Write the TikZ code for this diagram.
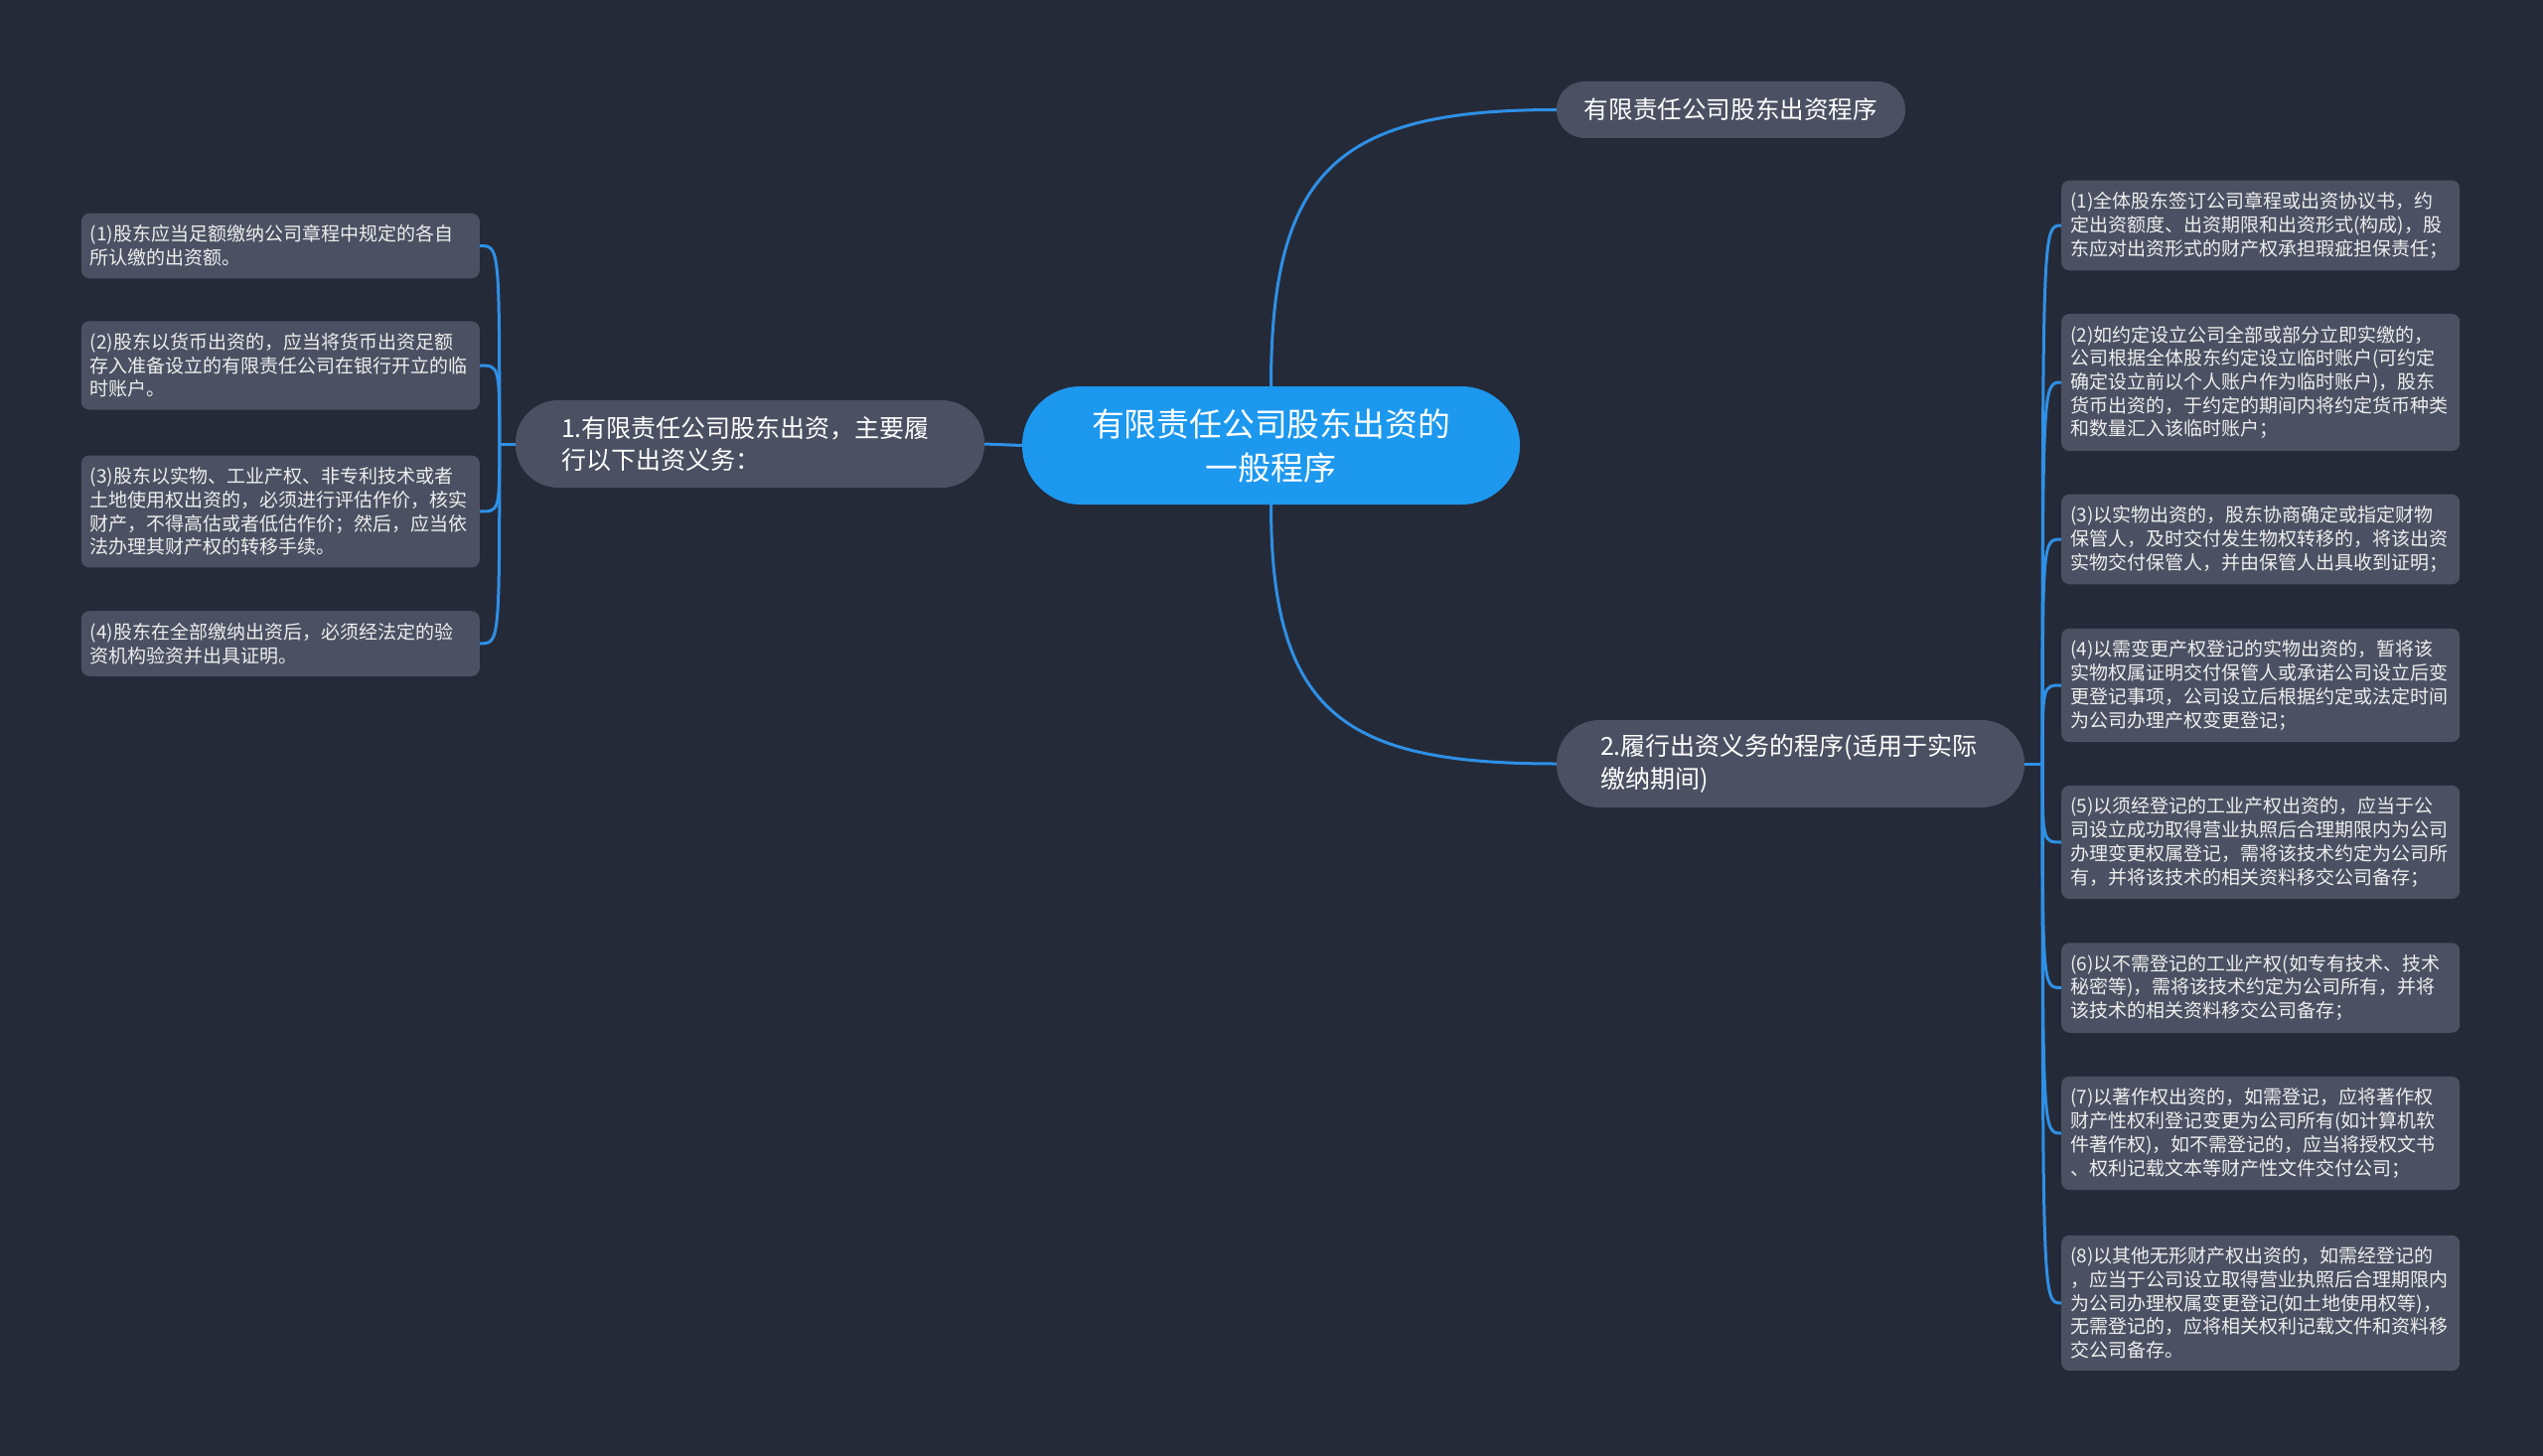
\documentclass[tikz,border=0pt]{standalone}
\usepackage{fontspec}
\newfontfamily\cjk{Noto Sans CJK SC}
\usetikzlibrary{positioning, calc}
\definecolor{bgnavy}{HTML}{252A38}
\definecolor{boxgrey}{HTML}{4B5162}
\definecolor{rootblue}{HTML}{1C98EF}
\definecolor{linkblue}{HTML}{2E90E6}
\definecolor{leaftext}{HTML}{EEEEEE}

\tikzset{
    leaf/.style={fill=boxgrey, text=leaftext, rounded corners=8pt, align=left,
        text width=383pt, inner xsep=9pt, inner ysep=12pt,
        font=\cjk\fontsize{19pt}{23.7pt}\selectfont},
    branch/.style={fill=boxgrey, text=white, rounded corners=43pt, align=left,
        text width=380pt, inner xsep=46pt, inner ysep=10pt, minimum height=88pt,
        font=\cjk\fontsize{25pt}{32.7pt}\selectfont},
    root/.style={fill=rootblue, text=white, rounded corners=59pt, align=center,
        text width=441pt, inner xsep=30pt, minimum height=119pt,
        font=\cjk\fontsize{32.8pt}{44pt}\selectfont},
    link/.style={draw=linkblue, line width=3pt}
}

\begin{document}
\begin{tikzpicture}[x=1pt, y=1pt]
    % background
    \fill[bgnavy] (0,0) rectangle (2560,-1466);
    \useasboundingbox (0,0) rectangle (2560,-1466);

    % central topic
    \node[root] (root) at (1279.5,-448.5) {有限责任公司股东出资的\\一般程序};

    % main branches
    \node[fill=boxgrey, text=white, rounded corners=28pt, minimum width=351pt,
        minimum height=57pt, font=\cjk\fontsize{24.6pt}{30pt}\selectfont]
        (topic) at (1742.5,-110.5) {有限责任公司股东出资程序};
    \node[branch] (duty) at (755,-447) {1.有限责任公司股东出资，主要履\\行以下出资义务：};
    \node[branch, text width=383pt, inner xsep=44pt] (proc) at (1802.5,-769) {2.履行出资义务的程序(适用于实际\\缴纳期间)};

    % left leaves
    \node[leaf, anchor=east] (d1) at (483,-247.5) {(1)股东应当足额缴纳公司章程中规定的各自\\所认缴的出资额。};
    \node[leaf, anchor=east] (d2) at (483,-368) {(2)股东以货币出资的，应当将货币出资足额\\存入准备设立的有限责任公司在银行开立的临\\时账户。};
    \node[leaf, anchor=east] (d3) at (483,-515) {(3)股东以实物、工业产权、非专利技术或者\\土地使用权出资的，必须进行评估作价，核实\\财产，不得高估或者低估作价；然后，应当依\\法办理其财产权的转移手续。};
    \node[leaf, anchor=east] (d4) at (483,-648) {(4)股东在全部缴纳出资后，必须经法定的验\\资机构验资并出具证明。};

    % right leaves
    \node[leaf, anchor=west] (p1) at (2075,-227) {(1)全体股东签订公司章程或出资协议书，约\\定出资额度、出资期限和出资形式(构成)，股\\东应对出资形式的财产权承担瑕疵担保责任；};
    \node[leaf, anchor=west] (p2) at (2075,-385) {(2)如约定设立公司全部或部分立即实缴的，\\公司根据全体股东约定设立临时账户(可约定\\确定设立前以个人账户作为临时账户)，股东\\货币出资的，于约定的期间内将约定货币种类\\和数量汇入该临时账户；};
    \node[leaf, anchor=west] (p3) at (2075,-543) {(3)以实物出资的，股东协商确定或指定财物\\保管人，及时交付发生物权转移的，将该出资\\实物交付保管人，并由保管人出具收到证明；};
    \node[leaf, anchor=west] (p4) at (2075,-690) {(4)以需变更产权登记的实物出资的，暂将该\\实物权属证明交付保管人或承诺公司设立后变\\更登记事项，公司设立后根据约定或法定时间\\为公司办理产权变更登记；};
    \node[leaf, anchor=west] (p5) at (2075,-848) {(5)以须经登记的工业产权出资的，应当于公\\司设立成功取得营业执照后合理期限内为公司\\办理变更权属登记，需将该技术约定为公司所\\有，并将该技术的相关资料移交公司备存；};
    \node[leaf, anchor=west] (p6) at (2075,-994.5) {(6)以不需登记的工业产权(如专有技术、技术\\秘密等)，需将该技术约定为公司所有，并将\\该技术的相关资料移交公司备存；};
    \node[leaf, anchor=west] (p7) at (2075,-1141) {(7)以著作权出资的，如需登记，应将著作权\\财产性权利登记变更为公司所有(如计算机软\\件著作权)，如不需登记的，应当将授权文书\\、权利记载文本等财产性文件交付公司；};
    \node[leaf, anchor=west] (p8) at (2075,-1312) {(8)以其他无形财产权出资的，如需经登记的\\，应当于公司设立取得营业执照后合理期限内\\为公司办理权属变更登记(如土地使用权等)，\\无需登记的，应将相关权利记载文件和资料移\\交公司备存。};

    % connectors from the root
    \draw[link] (root.north) to[out=90, in=180, looseness=1.4] (topic.west);
    \draw[link] (root.south) to[out=-90, in=180, looseness=1.4] (proc.west);
    \draw[link] (root.west) -- (duty.east);

    % left bracket
    \coordinate (hubL) at ($(duty.west)+(-16,0)$);
    \draw[link] (duty.west) -- (hubL);
    \foreach \leaf in {d1,d2,d3,d4}
        \draw[link] (hubL) .. controls (hubL |- \leaf.east) and (hubL |- \leaf.east) .. (\leaf.east);

    % right bracket
    \coordinate (hubR) at ($(proc.east)+(18,0)$);
    \draw[link] (proc.east) -- (hubR);
    \foreach \leaf in {p1,p2,p3,p4,p5,p6,p7,p8}
        \draw[link] (hubR) .. controls (hubR |- \leaf.west) and (hubR |- \leaf.west) .. (\leaf.west);
\end{tikzpicture}
\end{document}
